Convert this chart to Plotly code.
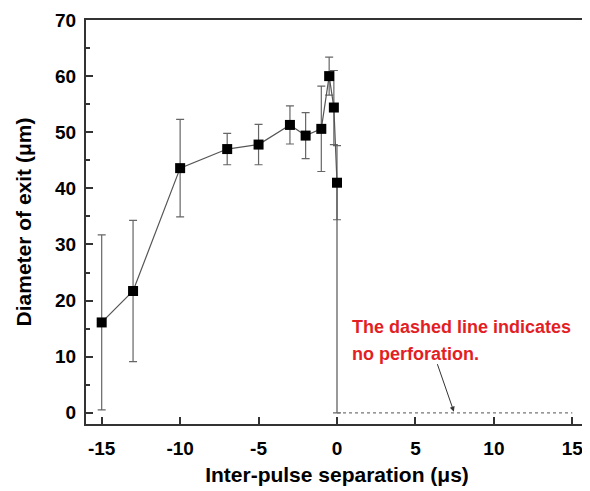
import plotly.graph_objects as go

x_sep = [-15, -13, -10, -7, -5, -3, -2, -1, -0.5, -0.2, 0, 0]
diameter = [16.1, 21.7, 43.6, 47.0, 47.8, 51.3, 49.4, 50.6, 60.0, 54.4, 41.0, 0]
err = [15.6, 12.6, 8.7, 2.8, 3.6, 3.4, 4.1, 7.6, 3.4, 6.6, 6.6, 0]

dash_x = [0, 15]
dash_y = [0, 0]

x_tickvals = [-15, -10, -5, 0, 5, 10, 15]
x_ticktext = ["-15", "-10", "-5", "0", "5", "10", "15"]
y_tickvals = [0, 10, 20, 30, 40, 50, 60, 70]

font = "Liberation Sans, Arial, sans-serif"

fig = go.Figure()
fig.add_trace(go.Scatter(
    x=x_sep, y=diameter, mode="lines",
    line=dict(color="#555555", width=1.2),
    error_y=dict(type="data", array=err, visible=True, color="#666666", thickness=1.2, width=4),
    showlegend=False, hoverinfo="skip"))
fig.add_trace(go.Scatter(
    x=x_sep[:-1], y=diameter[:-1], mode="markers",
    marker=dict(symbol="square", size=10, color="black"),
    showlegend=False))
fig.add_trace(go.Scatter(
    x=dash_x, y=dash_y, mode="lines",
    line=dict(color="#777777", width=1.2, dash="dot"),
    showlegend=False))

fig.add_annotation(
    x=7.45, y=0.2, ax=-17, ay=-49, xref="x", yref="y",
    text="", showarrow=True, arrowhead=2, arrowsize=1, arrowwidth=1, arrowcolor="#333333")
fig.add_annotation(
    x=0.8, y=15.2, xref="x", yref="y", xanchor="left", yanchor="middle",
    text="The dashed line indicates", showarrow=False, align="left",
    font=dict(family=font, size=18, color="#e31e24", weight="bold"))
fig.add_annotation(
    x=0.8, y=10.4, xref="x", yref="y", xanchor="left", yanchor="middle",
    text="no perforation.", showarrow=False, align="left",
    font=dict(family=font, size=18, color="#e31e24", weight="bold"))

# page body has an 8px default margin, so the figure is sized to fit the window
fig.update_layout(
    width=582, height=483,
    margin=dict(l=78, r=2, t=12, b=67),
    paper_bgcolor="white", plot_bgcolor="white",
    font=dict(family=font, size=16, color="black"),
    xaxis=dict(
        range=[-16, 16], tickvals=x_tickvals, ticktext=x_ticktext,
        ticks="inside", ticklen=7, tickwidth=1.5, tickcolor="#333333",
        showline=True, linecolor="#333333", linewidth=2, mirror=True,
        showgrid=False, zeroline=False, automargin=False,
        ticklabelstandoff=6,
        tickfont=dict(family=font, size=19, weight="bold"),
        title=dict(text="Inter-pulse separation (μs)", standoff=10,
                   font=dict(family=font, size=21, weight="bold"))),
    yaxis=dict(
        range=[-2, 70], tickvals=y_tickvals,
        ticks="inside", ticklen=7, tickwidth=1.5, tickcolor="#333333",
        minor=dict(ticks="inside", ticklen=4, dtick=5, tick0=5, tickcolor="#333333", showgrid=False),
        showline=True, linecolor="#333333", linewidth=2, mirror=True,
        showgrid=False, zeroline=False, automargin=False,
        ticklabelstandoff=4,
        tickfont=dict(family=font, size=19, weight="bold"),
        title=dict(text="Diameter of exit (μm)", standoff=18,
                   font=dict(family=font, size=21, weight="bold"))),
)

fig.write_html("out.html")
